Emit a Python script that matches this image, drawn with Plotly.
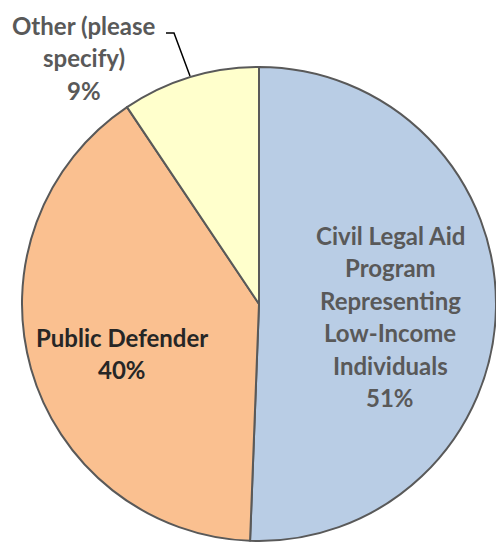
import plotly.graph_objects as go

labels = ["Civil Legal Aid Program Representing Low-Income Individuals", "Public Defender", "Other (please specify)"]
values = [50.6, 40.0, 9.4]
colors = ["#B9CDE5", "#FAC090", "#FFFFCC"]
label_lines = [
    ["Civil Legal Aid", "Program", "Representing", "Low-Income", "Individuals"],
    ["Public Defender"],
    ["Other (please", "specify)"],
]
text_colors = ["#595959", "#262626", "#595959"]

W, H = 496, 544
ML, MR, MT, MB = 22, 0, 66, 2
PW, PH = W - ML - MR, H - MT - MB

def px(x):
    return (x - ML) / PW

def py(y):
    return 1 - (y - MT) / PH

fig = go.Figure(go.Pie(
    labels=labels, values=values, sort=False, direction="clockwise", rotation=0,
    marker=dict(colors=colors, line=dict(color="#595959", width=2)),
    textinfo="none", hoverinfo="label+percent", showlegend=False,
))

total = sum(values)
anchors = [(390, 235), (122, 337), (84, 25)]
spacing = 32.5
font = "Lato"
annotations = []
for lines, val, col, (cx, cy) in zip(label_lines, values, text_colors, anchors):
    allines = lines + [f"{round(100 * val / total)}%"]
    for i, t in enumerate(allines):
        annotations.append(dict(
            x=px(cx), y=py(cy + i * spacing), xref="paper", yref="paper",
            text=f"<b>{t}</b>", showarrow=False, xanchor="center", yanchor="middle",
            font=dict(family=font, size=24, color=col),
        ))

fig.update_layout(
    width=W, height=H, margin=dict(l=ML, r=MR, t=MT, b=MB),
    paper_bgcolor="white", plot_bgcolor="white",
    annotations=annotations,
    shapes=[dict(type="path", xref="paper", yref="paper",
                 path=f"M {px(166)},{py(33)} L {px(174)},{py(33)} L {px(190)},{py(76)}",
                 line=dict(color="#000000", width=1.5))],
)
fig.write_html("out.html")
